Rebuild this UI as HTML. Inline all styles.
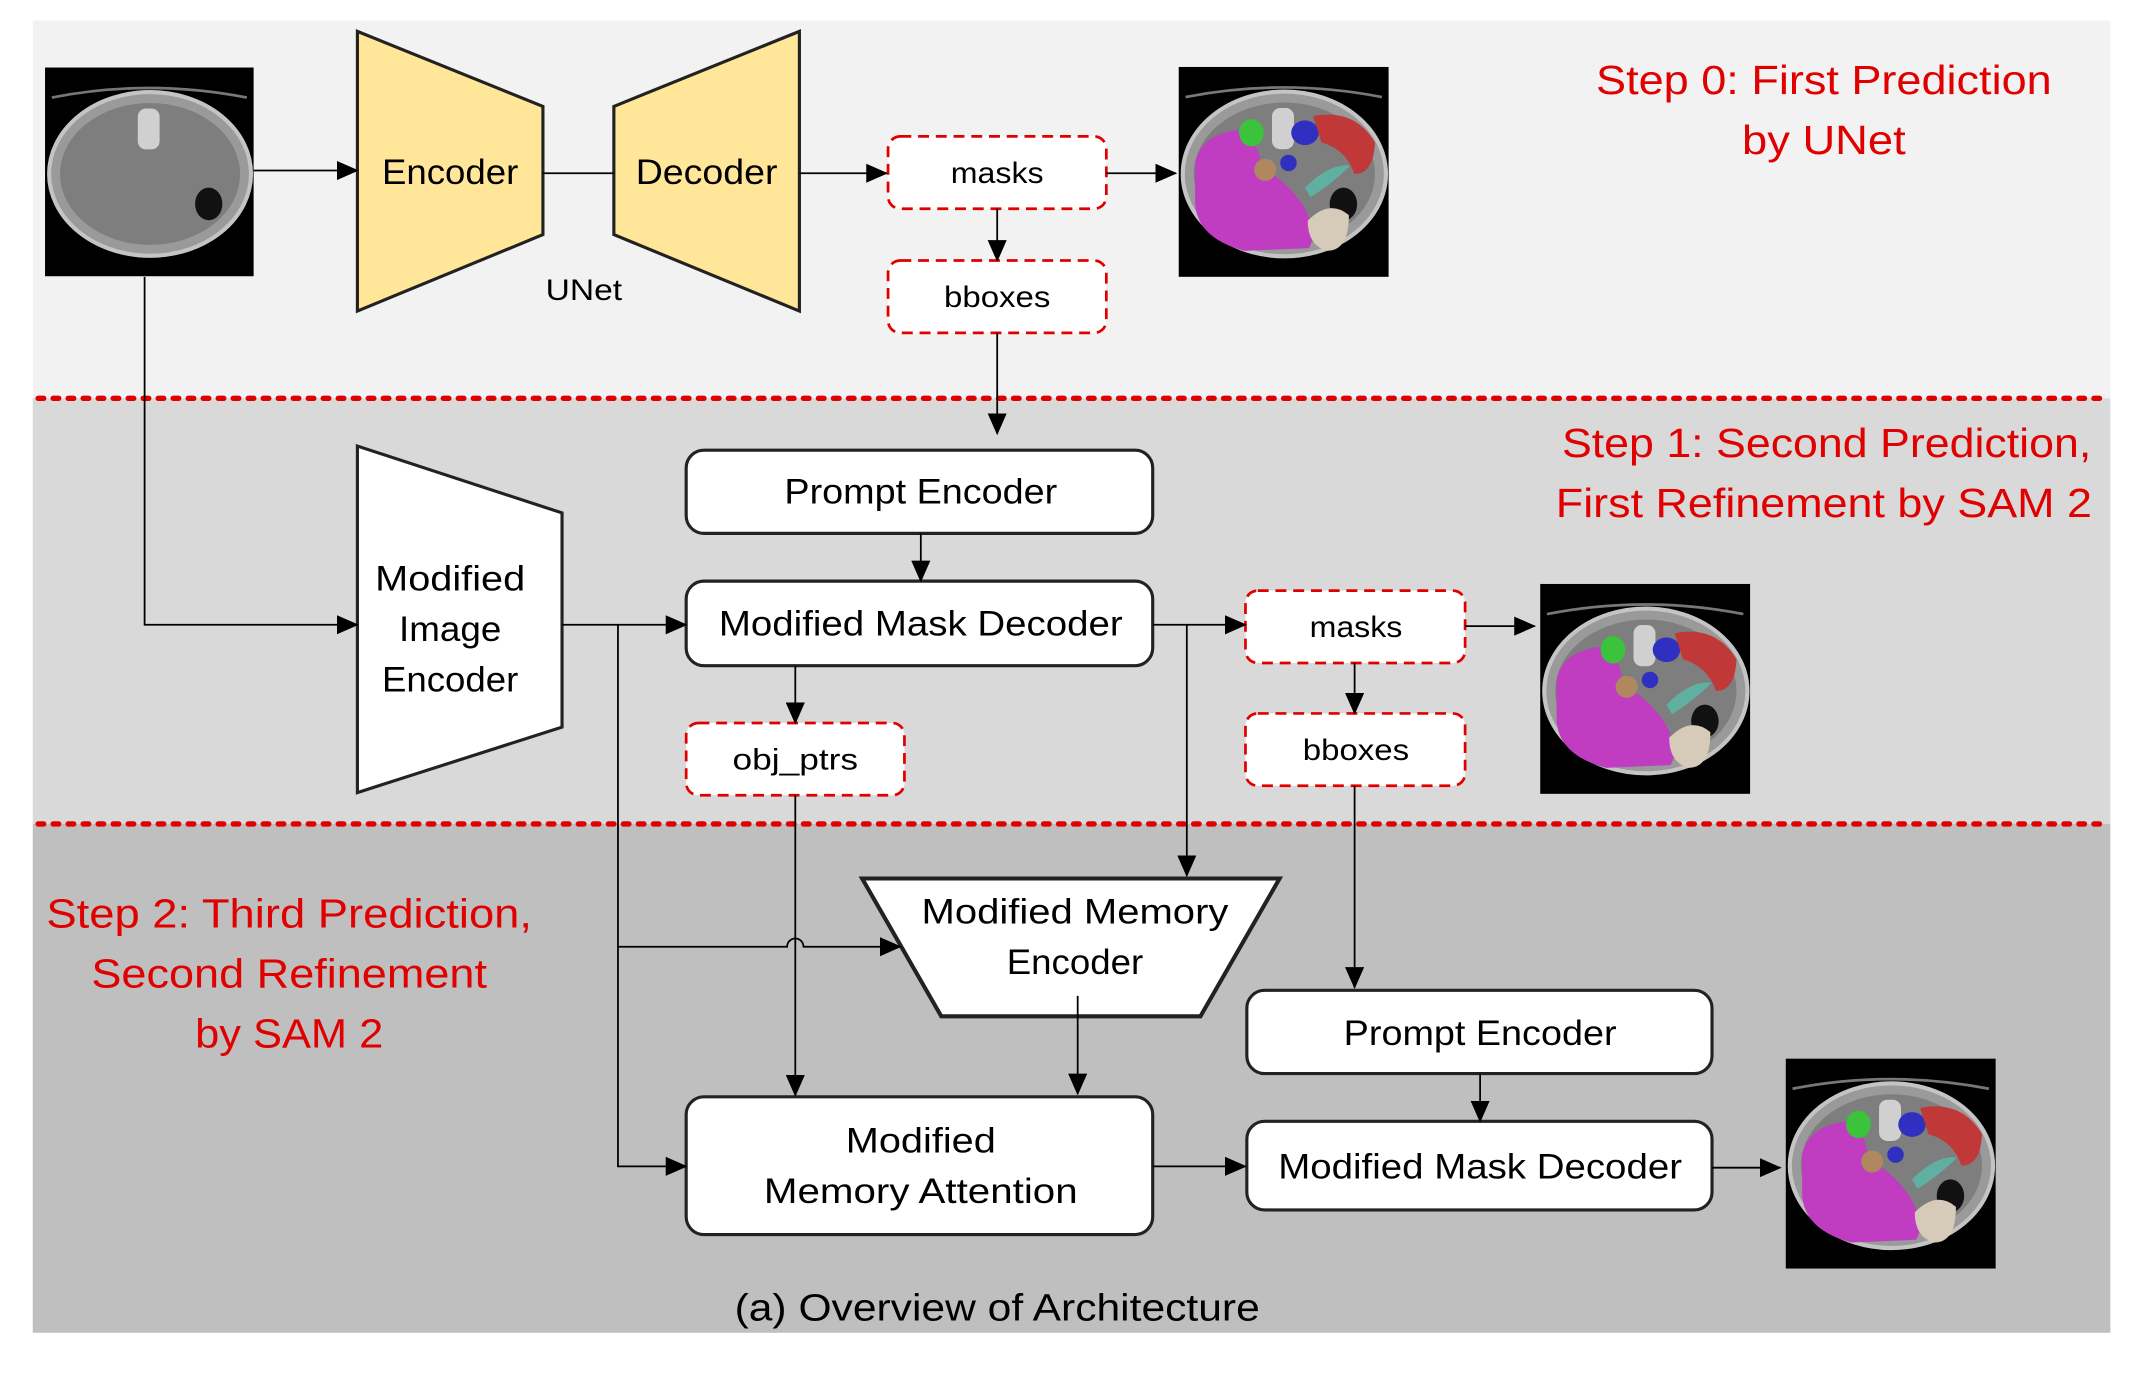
<!DOCTYPE html>
<html><head><meta charset="utf-8"><style>
html,body{margin:0;padding:0;background:#fff}
svg{display:block}
text{font-family:"Liberation Sans",sans-serif;fill:#000}
.r{fill:#e00000}
</style></head><body>
<svg width="2139" height="1376" viewBox="0 0 1568 1008.7" preserveAspectRatio="none" xmlns="http://www.w3.org/2000/svg">
<defs>
<marker id="b" markerWidth="16" markerHeight="14" refX="15" refY="7" orient="auto" markerUnits="userSpaceOnUse"><path d="M0,0 L16,7 L0,14 z" fill="#000"/></marker>
<symbol id="ct" viewBox="0 0 153 153">
<rect width="153" height="153" fill="#000"/>
<path d="M5,22 Q76,8 148,22" stroke="#777" stroke-width="2" fill="none"/>
<ellipse cx="77" cy="78" rx="74" ry="60" fill="#9a9a9a" stroke="#c4c4c4" stroke-width="3"/>
<ellipse cx="77" cy="78" rx="66" ry="52" fill="#7e7e7e"/>
<rect x="68" y="30" width="16" height="30" rx="6" fill="#d0d0d0"/>
<ellipse cx="120" cy="100" rx="10" ry="12" fill="#111"/>
</symbol>
<symbol id="ctc" viewBox="0 0 153 153">
<use href="#ct" width="153" height="153"/>
<path d="M12,70 Q16,50 42,46 Q58,50 60,72 Q80,85 90,100 Q102,120 95,132 L48,134 Q14,125 12,100 z" fill="#c03cc0"/>
<ellipse cx="53" cy="48" rx="9" ry="10" fill="#3bc43b"/>
<ellipse cx="92" cy="48" rx="10" ry="9" fill="#3030c0"/>
<path d="M98,36 Q128,30 143,55 Q142,78 128,78 Q122,60 104,55 z" fill="#c03838"/>
<ellipse cx="63" cy="75" rx="8" ry="8" fill="#b08860"/>
<ellipse cx="80" cy="70" rx="6" ry="6" fill="#3030c0"/>
<path d="M92,88 Q110,70 125,72 Q112,85 96,95 z" fill="#5fb0a0"/>
<path d="M94,112 Q110,96 124,108 Q124,134 108,134 Q94,130 94,112 z" fill="#d6cbb8"/>
</symbol>
</defs>
<rect x="24" y="15" width="1523" height="277" fill="#f2f2f2"/>
<rect x="24" y="292" width="1523" height="312" fill="#d9d9d9"/>
<rect x="24" y="604" width="1523" height="373" fill="#bfbfbf"/>
<g stroke="#e00000" stroke-width="4" stroke-dasharray="4 7" stroke-linecap="round">
<line x1="28" y1="292" x2="1540" y2="292"/><line x1="28" y1="604" x2="1540" y2="604"/></g>

<use href="#ct" x="33" y="49" width="153" height="154"/>
<use href="#ctc" x="864" y="49" width="154" height="154"/>
<use href="#ctc" x="1129" y="428" width="154" height="154"/>
<use href="#ctc" x="1309" y="776" width="154" height="154"/>

<g stroke="#222" stroke-width="2.3">
<polygon points="262,23 398,78 398,172 262,228" fill="#ffe699"/>
<polygon points="450,78 586,23 586,228 450,172" fill="#ffe699"/>
<polygon points="262,327 412,376 412,533 262,581" fill="#fff"/>
<polygon points="632,644 938,644 880,745 690,745" fill="#fff" stroke-width="3"/>
<rect x="503" y="330" width="342" height="61" rx="13" fill="#fff"/>
<rect x="503" y="426" width="342" height="62" rx="13" fill="#fff"/>
<rect x="503" y="804" width="342" height="101" rx="13" fill="#fff"/>
<rect x="914" y="726" width="341" height="61" rx="13" fill="#fff"/>
<rect x="914" y="822" width="341" height="65" rx="13" fill="#fff"/>
</g>
<g stroke="#e00000" stroke-width="2" stroke-dasharray="8 5" fill="#fff">
<rect x="651" y="100" width="160" height="53" rx="9"/>
<rect x="651" y="191" width="160" height="53" rx="9"/>
<rect x="503" y="530" width="160" height="53" rx="9"/>
<rect x="913" y="433" width="161" height="53" rx="9"/>
<rect x="913" y="523" width="161" height="53" rx="9"/>
</g>

<g stroke="#000" stroke-width="1.3" fill="none">
<line x1="186" y1="125" x2="262" y2="125" marker-end="url(#b)"/>
<line x1="398" y1="127" x2="450" y2="127"/>
<line x1="586" y1="127" x2="650" y2="127" marker-end="url(#b)"/>
<line x1="811" y1="127" x2="862" y2="127" marker-end="url(#b)"/>
<line x1="731" y1="153" x2="731" y2="191" marker-end="url(#b)"/>
<line x1="731" y1="244" x2="731" y2="318" marker-end="url(#b)"/>
<polyline points="106,203 106,458 262,458" marker-end="url(#b)"/>
<line x1="412" y1="458" x2="503" y2="458" marker-end="url(#b)"/>
<polyline points="453,458 453,855 503,855" marker-end="url(#b)"/>
<path d="M453,694 L577,694 A6,6 0 0 1 589,694 L660,694" marker-end="url(#b)"/>
<line x1="675" y1="391" x2="675" y2="426" marker-end="url(#b)"/>
<line x1="583" y1="488" x2="583" y2="530" marker-end="url(#b)"/>
<line x1="583" y1="583" x2="583" y2="803" marker-end="url(#b)"/>
<line x1="845" y1="458" x2="913" y2="458" marker-end="url(#b)"/>
<line x1="870" y1="458" x2="870" y2="642" marker-end="url(#b)"/>
<line x1="1074" y1="459" x2="1125" y2="459" marker-end="url(#b)"/>
<line x1="993" y1="486" x2="993" y2="523" marker-end="url(#b)"/>
<line x1="993" y1="576" x2="993" y2="724" marker-end="url(#b)"/>
<line x1="790" y1="730" x2="790" y2="802" marker-end="url(#b)"/>
<line x1="845" y1="855" x2="913" y2="855" marker-end="url(#b)"/>
<line x1="1085" y1="787" x2="1085" y2="822" marker-end="url(#b)"/>
<line x1="1255" y1="856" x2="1305" y2="856" marker-end="url(#b)"/>
</g>

<g font-size="26" text-anchor="middle">
<text x="330" y="135" textLength="100" lengthAdjust="spacingAndGlyphs">Encoder</text>
<text x="518" y="135" textLength="104" lengthAdjust="spacingAndGlyphs">Decoder</text>
<text x="428" y="220" font-size="22" textLength="56" lengthAdjust="spacingAndGlyphs">UNet</text>
<text x="731" y="134" font-size="22" textLength="68" lengthAdjust="spacingAndGlyphs">masks</text>
<text x="731" y="225" font-size="22" textLength="78" lengthAdjust="spacingAndGlyphs">bboxes</text>
<text x="583" y="564" font-size="22" textLength="92" lengthAdjust="spacingAndGlyphs">obj_ptrs</text>
<text x="994" y="467" font-size="22" textLength="68" lengthAdjust="spacingAndGlyphs">masks</text>
<text x="994" y="557" font-size="22" textLength="78" lengthAdjust="spacingAndGlyphs">bboxes</text>
<text x="675" y="369" textLength="200" lengthAdjust="spacingAndGlyphs">Prompt Encoder</text>
<text x="675" y="466" textLength="296" lengthAdjust="spacingAndGlyphs">Modified Mask Decoder</text>
<text x="330" y="433" textLength="110" lengthAdjust="spacingAndGlyphs">Modified</text>
<text x="330" y="470" textLength="75" lengthAdjust="spacingAndGlyphs">Image</text>
<text x="330" y="507" textLength="100" lengthAdjust="spacingAndGlyphs">Encoder</text>
<text x="788" y="677" textLength="225" lengthAdjust="spacingAndGlyphs">Modified Memory</text>
<text x="788" y="714" textLength="100" lengthAdjust="spacingAndGlyphs">Encoder</text>
<text x="675" y="845" textLength="110" lengthAdjust="spacingAndGlyphs">Modified</text>
<text x="675" y="882" textLength="230" lengthAdjust="spacingAndGlyphs">Memory Attention</text>
<text x="1085" y="766" textLength="200" lengthAdjust="spacingAndGlyphs">Prompt Encoder</text>
<text x="1085" y="864" textLength="296" lengthAdjust="spacingAndGlyphs">Modified Mask Decoder</text>
<text x="731" y="968" font-size="28" textLength="385" lengthAdjust="spacingAndGlyphs">(a) Overview of Architecture</text>
</g>
<g font-size="30" text-anchor="middle">
<text class="r" x="1337" y="69" textLength="334" lengthAdjust="spacingAndGlyphs">Step 0: First Prediction</text>
<text class="r" x="1337" y="113" textLength="120" lengthAdjust="spacingAndGlyphs">by UNet</text>
<text class="r" x="1339" y="335" textLength="388" lengthAdjust="spacingAndGlyphs">Step 1: Second Prediction,</text>
<text class="r" x="1337" y="379" textLength="393" lengthAdjust="spacingAndGlyphs">First Refinement by SAM 2</text>
<text class="r" x="212" y="680" textLength="356" lengthAdjust="spacingAndGlyphs">Step 2: Third Prediction,</text>
<text class="r" x="212" y="724" textLength="290" lengthAdjust="spacingAndGlyphs">Second Refinement</text>
<text class="r" x="212" y="768" textLength="138" lengthAdjust="spacingAndGlyphs">by SAM 2</text>
</g>
</svg>
</body></html>
